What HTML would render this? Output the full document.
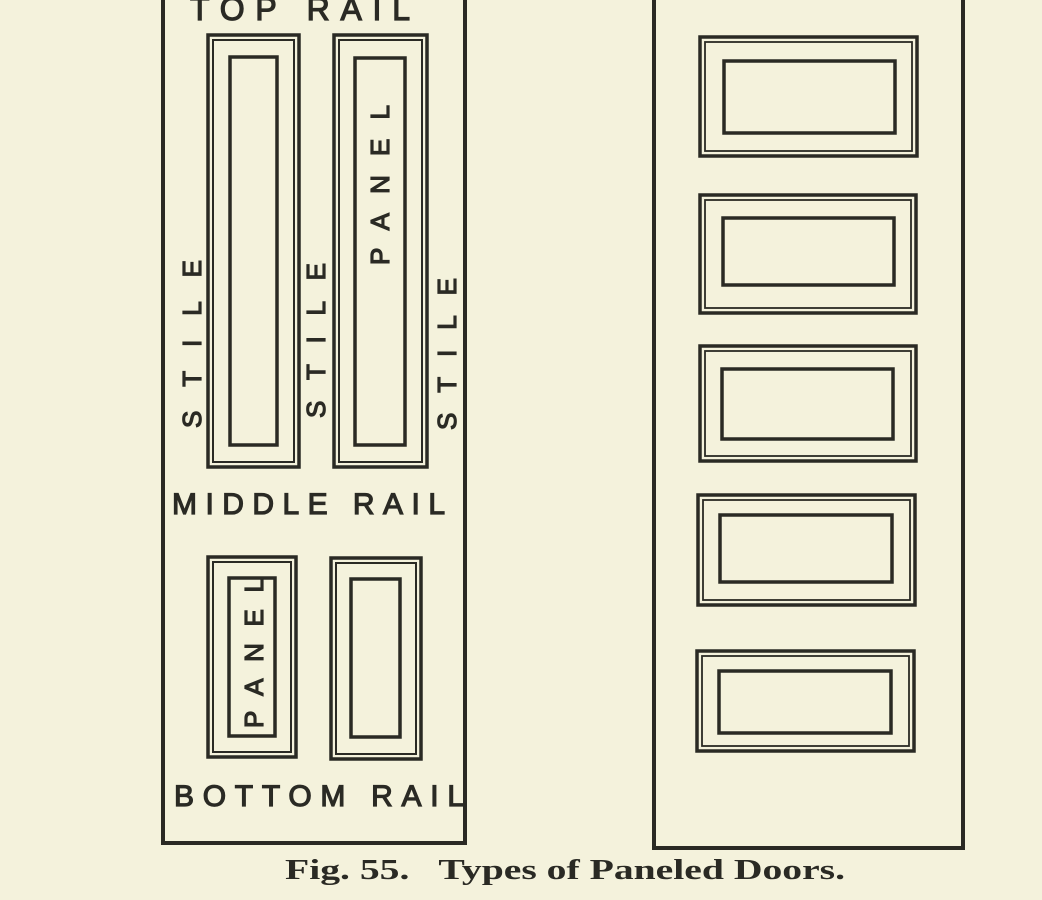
<!DOCTYPE html>
<html><head><meta charset="utf-8"><style>
html,body{margin:0;padding:0;background:#f4f2dc;}
svg{display:block;}
text{font-family:"Liberation Sans",sans-serif;fill:#2a2a24;}
</style></head><body>
<svg width="1042" height="900" viewBox="0 0 1042 900" xmlns="http://www.w3.org/2000/svg">
<rect width="1042" height="900" fill="#f4f2dc"/>
<g fill="none" stroke="#2a2a24">
<path d="M163 0 V843 H465 V0" stroke-width="4"/>
<rect x="208" y="35" width="91" height="432" stroke-width="3.5"/>
<rect x="213" y="40" width="81" height="422" stroke-width="2"/>
<rect x="230" y="57" width="47" height="388" stroke-width="3.5"/>
<rect x="334" y="35" width="93" height="432" stroke-width="3.5"/>
<rect x="339" y="40" width="83" height="422" stroke-width="2"/>
<rect x="355" y="58" width="50" height="387" stroke-width="3.5"/>
<rect x="208" y="557" width="88" height="200" stroke-width="3.5"/>
<rect x="213" y="562" width="78" height="190" stroke-width="2"/>
<rect x="229" y="578" width="46" height="158" stroke-width="3.5"/>
<rect x="331" y="558" width="90" height="201" stroke-width="3.5"/>
<rect x="336" y="563" width="80" height="191" stroke-width="2"/>
<rect x="351" y="579" width="49" height="158" stroke-width="3.5"/>
<path d="M654 0 V848 H963 V0" stroke-width="4"/>
<g stroke-width="3.5">
<rect x="700" y="37" width="217" height="119"/><rect x="724" y="61" width="171" height="72"/>
<rect x="700" y="195" width="216" height="118"/><rect x="723" y="218" width="171" height="67"/>
<rect x="700" y="346" width="216" height="115"/><rect x="722" y="369" width="171" height="70"/>
<rect x="698" y="495" width="217" height="110"/><rect x="720" y="515" width="172" height="67"/>
<rect x="697" y="651" width="217" height="100"/><rect x="719" y="671" width="172" height="62"/>
</g>
<g stroke-width="1.8">
<rect x="705" y="42" width="207" height="109"/>
<rect x="705" y="200" width="206" height="108"/>
<rect x="705" y="351" width="206" height="105"/>
<rect x="703" y="500" width="207" height="100"/>
<rect x="702" y="656" width="207" height="90"/>
</g>
</g>
<g stroke="#2a2a24" stroke-width="1.2">
<text x="190" y="20" font-size="32" textLength="220" lengthAdjust="spacing">TOP RAIL</text>
<text x="172" y="514" font-size="30" textLength="273" lengthAdjust="spacing">MIDDLE RAIL</text>
<text x="174" y="806" font-size="30" textLength="290" lengthAdjust="spacing">BOTTOM RAIL</text>
<text transform="translate(201,428) rotate(-90)" font-size="26" textLength="168" lengthAdjust="spacing">STILE</text>
<text transform="translate(325,418) rotate(-90)" font-size="26" textLength="155" lengthAdjust="spacing">STILE</text>
<text transform="translate(456,430) rotate(-90)" font-size="26" textLength="152" lengthAdjust="spacing">STILE</text>
<text transform="translate(389,265) rotate(-90)" font-size="26" textLength="160" lengthAdjust="spacing">PANEL</text>
<text transform="translate(263,728) rotate(-90)" font-size="26" textLength="150" lengthAdjust="spacing">PANEL</text>
</g>
<text x="285" y="879" font-weight="bold" font-size="28" style="font-family:'Liberation Serif',serif" textLength="560" lengthAdjust="spacingAndGlyphs" xml:space="preserve">Fig. 55.   Types of Paneled Doors.</text>
</svg>
</body></html>
